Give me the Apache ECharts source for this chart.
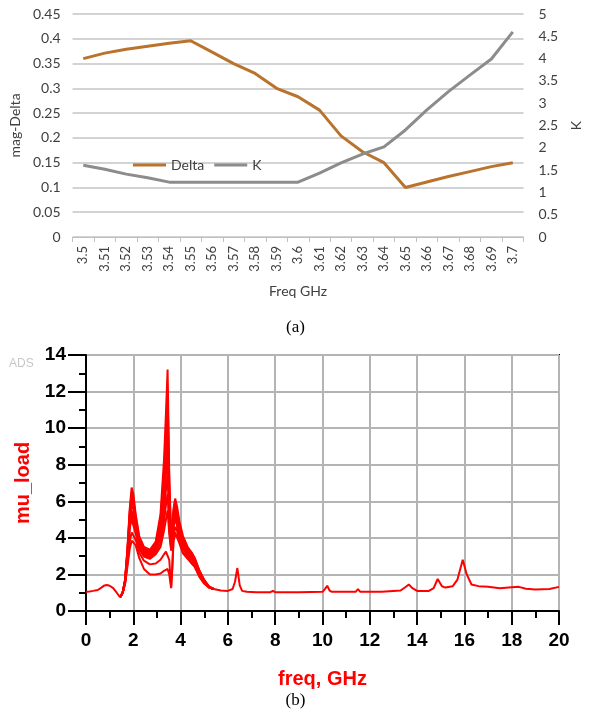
<!DOCTYPE html>
<html>
<head>
<meta charset="utf-8">
<script src="https://cdn.jsdelivr.net/npm/echarts@6/dist/echarts.min.js"></script>
<style>
    html, body { margin: 0; padding: 0; background: #fff; }
    #chart { width: 591px; height: 715px; }
</style>
</head>
<body>
<div id="chart"></div>
<script>
// ---- (a) Delta / K against frequency ----
var freqCategories = ['3.5','3.51','3.52','3.53','3.54','3.55','3.56','3.57','3.58','3.59','3.6',
                      '3.61','3.62','3.63','3.64','3.65','3.66','3.67','3.68','3.69','3.7'];
var deltaValues = [0.36, 0.371, 0.379, 0.385, 0.391, 0.396, 0.373, 0.35, 0.33, 0.30, 0.283,
                   0.256, 0.204, 0.172, 0.15, 0.10, 0.111, 0.122, 0.132, 0.142, 0.15];
var kValues = [1.61, 1.52, 1.41, 1.33, 1.23, 1.23, 1.23, 1.23, 1.23, 1.23, 1.23,
               1.43, 1.66, 1.86, 2.02, 2.4, 2.85, 3.26, 3.63, 3.99, 4.6];
var deltaTicks = [0, 0.05, 0.1, 0.15, 0.2, 0.25, 0.3, 0.35, 0.4, 0.45];
var kTicks = [0, 0.5, 1, 1.5, 2, 2.5, 3, 3.5, 4, 4.5, 5];

// ---- (b) mu_load against frequency (GHz) ----
// start of the sweep, common to every trace
var headFreq = [0, 0.15, 0.3, 0.5, 0.65, 0.78, 0.88, 1.0, 1.15, 1.3, 1.44];
var headMu   = [1.05, 1.07, 1.1, 1.15, 1.28, 1.4, 1.42, 1.38, 1.25, 1.0, 0.75];
// resonance region, one array per trace (top of the band first)
var bandFreq = [1.44, 1.55, 1.65, 1.75, 1.85, 1.93, 2.0, 2.1, 2.25, 2.45, 2.7, 2.95, 3.15, 3.3, 3.38,
                3.45, 3.52, 3.6, 3.65, 3.7, 3.77, 3.85, 3.95, 4.1, 4.3, 4.47, 4.6, 4.8, 5.0, 5.2, 5.4];
var muTrace1 = [0.75, 1.0, 1.7, 3.4, 5.6, 6.75, 6.4, 5.3, 4.1, 3.5, 3.35, 3.8, 5.3, 8.3, 10.8,
                13.2, 7.5, 4.0, 4.6, 5.6, 6.15, 5.7, 4.9, 4.1, 3.5, 3.2, 2.9, 2.2, 1.7, 1.35, 1.2];
var muTrace2 = [0.75, 1.0, 1.68, 3.3, 5.45, 6.5, 6.2, 5.15, 4.0, 3.42, 3.28, 3.7, 5.0, 7.6, 9.8,
                12.0, 7.0, 3.9, 4.45, 5.45, 6.0, 5.55, 4.75, 4.0, 3.42, 3.13, 2.85, 2.17, 1.68, 1.34, 1.2];
var muTrace3 = [0.75, 1.0, 1.66, 3.2, 5.3, 6.25, 6.0, 5.0, 3.9, 3.35, 3.2, 3.6, 4.7, 7.0, 9.0,
                10.8, 6.4, 3.8, 4.3, 5.3, 5.85, 5.4, 4.6, 3.9, 3.35, 3.06, 2.8, 2.14, 1.66, 1.33, 1.2];
var muTrace4 = [0.75, 1.0, 1.64, 3.1, 5.15, 6.0, 5.8, 4.85, 3.8, 3.28, 3.12, 3.5, 4.45, 6.4, 8.2,
                9.6, 5.9, 3.7, 4.15, 5.15, 5.7, 5.25, 4.45, 3.8, 3.28, 3.0, 2.75, 2.1, 1.64, 1.32, 1.2];
var muTrace5 = [0.75, 1.0, 1.62, 3.0, 5.0, 5.75, 5.6, 4.7, 3.7, 3.2, 3.05, 3.4, 4.2, 5.9, 7.4,
                8.5, 5.4, 3.6, 4.0, 5.0, 5.55, 5.1, 4.3, 3.7, 3.2, 2.93, 2.7, 2.06, 1.62, 1.31, 1.2];
var muTrace6 = [0.75, 1.0, 1.6, 2.9, 4.85, 5.5, 5.4, 4.55, 3.6, 3.12, 2.98, 3.3, 3.95, 5.4, 6.6,
                7.4, 5.0, 3.5, 3.85, 4.85, 5.4, 4.95, 4.15, 3.6, 3.12, 2.86, 2.65, 2.03, 1.6, 1.3, 1.2];
var muTrace7 = [0.75, 1.0, 1.58, 2.8, 4.7, 5.25, 5.2, 4.4, 3.5, 3.05, 2.9, 3.2, 3.7, 4.9, 5.8,
                6.4, 4.6, 3.4, 3.7, 4.7, 5.25, 4.8, 4.0, 3.5, 3.05, 2.8, 2.6, 2.0, 1.58, 1.3, 1.2];
var muTrace8 = [0.75, 1.0, 1.56, 2.7, 4.55, 5.0, 5.0, 4.25, 3.4, 2.98, 2.85, 3.1, 3.5, 4.4, 5.0,
                5.5, 4.2, 3.3, 3.55, 4.55, 5.1, 4.65, 3.9, 3.4, 3.0, 2.75, 2.55, 1.97, 1.56, 1.29, 1.2];
var muTrace9 = [0.75, 1.0, 1.5, 2.6, 3.8, 4.3, 4.4, 3.9, 3.2, 2.75, 2.55, 2.6, 2.8, 3.1, 3.25,
                3.3, 2.8, 1.3, 2.5, 4.0, 4.6, 4.4, 3.8, 3.2, 2.9, 2.6, 2.45, 1.9, 1.5, 1.3, 1.2];
var muTrace10 = [0.75, 1.0, 1.45, 2.4, 3.4, 3.85, 3.95, 3.6, 2.9, 2.3, 2.0, 2.0, 2.05, 2.2, 2.3,
                 2.3, 2.0, 1.25, 2.3, 3.8, 4.3, 4.2, 3.7, 3.15, 2.85, 2.6, 2.4, 1.85, 1.5, 1.28, 1.2];
// rest of the sweep, common to every trace
var tailFreq = [5.4, 5.7, 6.0, 6.2, 6.3, 6.4, 6.5, 6.6, 6.8, 7.2, 7.8, 7.9, 8.0, 9.0, 10.0, 10.1,
                10.2, 10.3, 10.4, 11.0, 11.4, 11.5, 11.6, 12.5, 13.3, 13.5, 13.65, 13.8, 14.0, 14.5,
                14.7, 14.87, 15.05, 15.2, 15.5, 15.7, 15.93, 16.1, 16.3, 16.6, 17.0, 17.5, 18.0,
                18.3, 18.6, 19.0, 19.6, 20.0];
var tailMu = [1.2, 1.12, 1.1, 1.2, 1.6, 2.35, 1.4, 1.1, 1.05, 1.03, 1.03, 1.1, 1.03, 1.03, 1.05, 1.2,
              1.38, 1.12, 1.05, 1.05, 1.05, 1.2, 1.05, 1.05, 1.12, 1.3, 1.45, 1.25, 1.1, 1.1,
              1.25, 1.75, 1.35, 1.28, 1.35, 1.7, 2.8, 2.0, 1.45, 1.36, 1.33, 1.25, 1.3,
              1.32, 1.22, 1.18, 1.2, 1.32];
var muTicks = [0, 2, 4, 6, 8, 10, 12, 14];
var ghzTicks = [0, 2, 4, 6, 8, 10, 12, 14, 16, 18, 20];

function pairs(xs, ys) {
    return xs.map(function (x, i) { return [x, ys[i]]; });
}

function redLine(data) {
    return {
        type: 'line',
        xAxisIndex: 1,
        yAxisIndex: 2,
        data: data,
        showSymbol: false,
        silent: true,
        lineStyle: { color: '#ff0000', width: 2 },
        z: 3
    };
}

var excelFont = 'Lato, "Open Sans", sans-serif';
var adsFont = '"Liberation Sans", Arial, sans-serif';

var myChart = echarts.init(document.getElementById('chart'), null, { renderer: 'canvas' });

var bandTraces = [muTrace1, muTrace2, muTrace3, muTrace4, muTrace5,
                  muTrace6, muTrace7, muTrace8, muTrace9, muTrace10];
var series = [{
    name: 'Delta',
    type: 'line',
    xAxisIndex: 0,
    yAxisIndex: 0,
    data: deltaValues,
    showSymbol: false,
    lineStyle: { color: '#b9732d', width: 3 },
    itemStyle: { color: '#b9732d' }
}, {
    name: 'K',
    type: 'line',
    xAxisIndex: 0,
    yAxisIndex: 1,
    data: kValues,
    showSymbol: false,
    lineStyle: { color: '#8c8c8c', width: 3 },
    itemStyle: { color: '#8c8c8c' }
}];
series.push(redLine(pairs(headFreq, headMu)));
bandTraces.forEach(function (t) {
    series.push(redLine(pairs(bandFreq, t)));
});
series.push(redLine(pairs(tailFreq, tailMu)));

var option = {
    animation: false,
    backgroundColor: '#fff',
    grid: [{
        left: 66, top: 14, width: 471, height: 223
    }, {
        left: 86, top: 355, width: 473, height: 256,
        show: true, borderColor: '#000', borderWidth: 2, backgroundColor: 'transparent'
    }],
    legend: {
        data: ['Delta', 'K'],
        left: 128, top: 153,
        icon: 'rect',
        itemWidth: 33, itemHeight: 3, itemGap: 10,
        textStyle: { fontFamily: excelFont, fontSize: 14, color: '#404040' }
    },
    xAxis: [{
        type: 'category',
        gridIndex: 0,
        data: freqCategories,
        boundaryGap: true,
        name: 'Freq GHz',
        nameLocation: 'middle',
        nameGap: 47,
        nameTextStyle: { fontFamily: excelFont, fontSize: 14, color: '#404040' },
        axisLine: { lineStyle: { color: '#bfbfbf', width: 1 } },
        axisTick: { show: true, length: 5, lineStyle: { color: '#bfbfbf' } },
        axisLabel: { rotate: 90, interval: 0, margin: 9, fontFamily: excelFont, fontSize: 13, color: '#404040' },
        splitLine: { show: false }
    }, {
        type: 'value',
        gridIndex: 1,
        min: ghzTicks[0], max: ghzTicks[ghzTicks.length - 1], interval: 2,
        name: 'freq, GHz',
        nameLocation: 'middle',
        nameGap: 58,
        nameTextStyle: { fontFamily: adsFont, fontSize: 20, fontWeight: 'bold', color: '#ff0000' },
        axisLine: { onZero: false, lineStyle: { color: '#000', width: 2 } },
        axisTick: { show: true, length: 14, lineStyle: { color: '#000', width: 2 } },
        minorTick: { show: true, splitNumber: 2, length: 7, lineStyle: { color: '#000', width: 2 } },
        axisLabel: { margin: 20, fontFamily: adsFont, fontSize: 19, fontWeight: 'bold', color: '#000' },
        splitLine: { show: true, lineStyle: { color: '#b4b4b4', width: 2 } }
    }],
    yAxis: [{
        type: 'value',
        gridIndex: 0,
        min: deltaTicks[0], max: deltaTicks[deltaTicks.length - 1], interval: 0.05,
        name: 'mag-Delta',
        nameLocation: 'middle',
        nameGap: 47,
        nameRotate: 90,
        nameTextStyle: { fontFamily: excelFont, fontSize: 14, color: '#404040' },
        axisLine: { show: false },
        axisTick: { show: false },
        axisLabel: { margin: 12, fontFamily: excelFont, fontSize: 14, color: '#404040' },
        splitLine: { show: true, lineStyle: { color: '#c4c4c4', width: 1.5 } }
    }, {
        type: 'value',
        gridIndex: 0,
        position: 'right',
        min: kTicks[0], max: kTicks[kTicks.length - 1], interval: 0.5,
        name: 'K',
        nameLocation: 'middle',
        nameGap: 40,
        nameRotate: 90,
        nameTextStyle: { fontFamily: excelFont, fontSize: 14, color: '#404040' },
        axisLine: { show: false },
        axisTick: { show: false },
        axisLabel: { margin: 15, fontFamily: excelFont, fontSize: 14, color: '#404040' },
        splitLine: { show: false }
    }, {
        type: 'value',
        gridIndex: 1,
        min: muTicks[0], max: muTicks[muTicks.length - 1], interval: 2,
        name: 'mu_load',
        nameLocation: 'middle',
        nameGap: 52,
        nameRotate: 90,
        nameTextStyle: { fontFamily: adsFont, fontSize: 20, fontWeight: 'bold', color: '#ff0000' },
        axisLine: { onZero: false, lineStyle: { color: '#000', width: 2 } },
        axisTick: { show: true, length: 18, lineStyle: { color: '#000', width: 2 } },
        minorTick: { show: true, splitNumber: 2, length: 7, lineStyle: { color: '#000', width: 2 } },
        axisLabel: { margin: 20, fontFamily: adsFont, fontSize: 19, fontWeight: 'bold', color: '#000' },
        splitLine: { show: true, lineStyle: { color: '#b4b4b4', width: 2 } }
    }],
    graphic: [{
        type: 'text', left: 'center', top: 319,
        style: { text: '(a)', font: '17px "Liberation Serif", "Times New Roman", serif', fill: '#000' }
    }, {
        type: 'text', left: 'center', top: 692,
        style: { text: '(b)', font: '17px "Liberation Serif", "Times New Roman", serif', fill: '#000' }
    }, {
        type: 'text', left: 9, top: 358,
        style: { text: 'ADS', font: '12px "Liberation Sans", Arial, sans-serif', fill: '#c8c8c8' }
    }],
    series: series
};

myChart.setOption(option);
</script>
</body>
</html>
